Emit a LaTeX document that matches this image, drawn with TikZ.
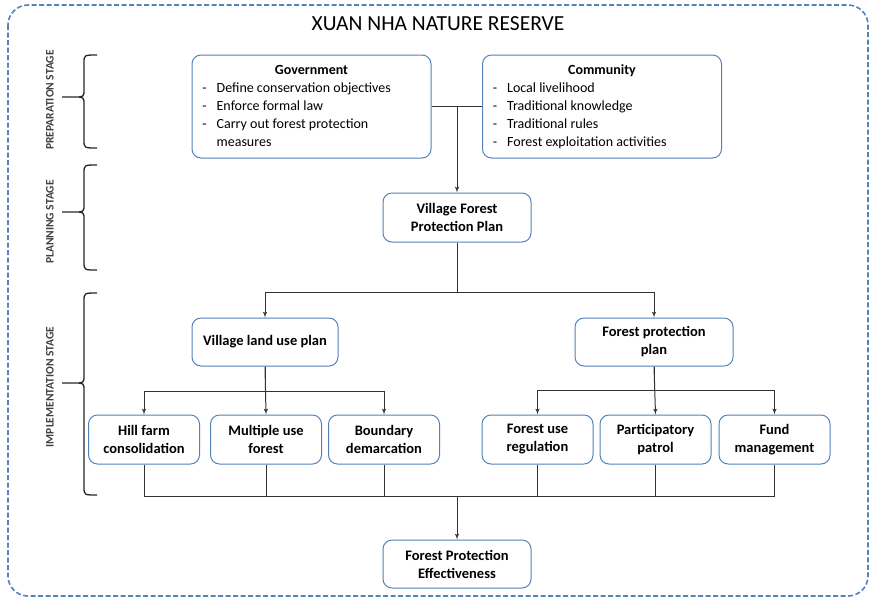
\documentclass[tikz,border=0pt]{standalone}
\usepackage{fontspec}
\setmainfont{Carlito}
\usetikzlibrary{arrows,positioning}
\definecolor{boxblue}{RGB}{84,130,186}
\definecolor{linegray}{RGB}{50,50,50}

\begin{document}
\begin{tikzpicture}[x=1pt,y=-1pt,>=latex',every node/.append style={align=center},
    box/.style={draw=boxblue, line width=1pt, rounded corners=9pt, fill=white, inner sep=2pt, font=\fontsize{14.5}{18}\selectfont\bfseries},
    list/.style={box, minimum width=239pt, minimum height=103pt, font=\fontsize{14}{18}\selectfont},
    sub/.style={box, minimum width=111pt, minimum height=49pt},
    link/.style={draw=linegray, line width=1pt},
    brace/.style={draw=black!85, line width=1.3pt},
    stage/.style={rotate=90, text=black!75, font=\fontsize{11.5}{13}\selectfont\bfseries}]
    \useasboundingbox (0,0) rectangle (874,598);
    \draw[boxblue, line width=1.6pt, dash pattern=on 5pt off 2.5pt, rounded corners=20pt] (8,5) rectangle (868,596);

    \node (title) at (438,24) {\fontsize{21.5}{24}\selectfont XUAN NHA NATURE RESERVE};

    \node [list] (gov) at (311.5,106.5) {\begin{tabular}{@{}l@{\hspace{10pt}}p{204pt}@{}}
        \multicolumn{2}{c}{\bfseries Government}\\
        - & Define conservation objectives\\
        - & Enforce formal law\\
        - & Carry out forest protection\\
          & measures
        \end{tabular}};
    \node [list] (comm) at (602,106.5) {\begin{tabular}{@{}l@{\hspace{10pt}}p{204pt}@{}}
        \multicolumn{2}{c}{\bfseries Community}\\
        - & Local livelihood\\
        - & Traditional knowledge\\
        - & Traditional rules\\
        - & Forest exploitation activities
        \end{tabular}};

    \node [box, minimum width=148pt, minimum height=49pt] (vfpp) at (457,217.5) {Village Forest\\Protection Plan};

    \node [box, minimum width=146pt, minimum height=48pt] (vlup) at (265,342) {Village land use plan};
    \node [box, minimum width=158pt, minimum height=48pt] (fpp) at (654,342) {Forest protection\\plan};

    \node [sub] (hill) at (144,439.5) {Hill farm\\consolidation};
    \node [sub, right=10pt of hill] (multi) {Multiple use\\forest};
    \node [sub, right=6pt of multi] (bound) {Boundary\\demarcation};

    \node [sub] (freg) at (537.5,439.5) {Forest use\\regulation};
    \node [sub, right=6pt of freg] (patrol) {Participatory\\patrol};
    \node [sub, right=7pt of patrol] (fund) {Fund\\management};

    \node [box, minimum width=148pt, minimum height=48pt] (fpe) at (457,564) {Forest Protection\\Effectiveness};

    % stages
    \draw[brace] (97,55) .. controls (84,55) .. (84,63) -- (84,89) .. controls (84,97) .. (74,97) -- (62,97)
                 (74,97) .. controls (84,97) .. (84,105) -- (84,140) .. controls (84,148) .. (97,148);
    \draw[brace] (97,165) .. controls (84,165) .. (84,173) -- (84,204) .. controls (84,212) .. (74,212) -- (62,212)
                 (74,212) .. controls (84,212) .. (84,220) -- (84,262) .. controls (84,270) .. (97,270);
    \draw[brace] (97,293) .. controls (84,293) .. (84,301) -- (84,375) .. controls (84,383) .. (74,383) -- (62,383)
                 (74,383) .. controls (84,383) .. (84,391) -- (84,487) .. controls (84,495) .. (97,495);
    \node [stage] (prep) at (50,100) {PREPARATION STAGE};
    \node [stage] (plan) at (50,222) {PLANNING STAGE};
    \node [stage] (impl) at (50,387) {IMPLEMENTATION STAGE};

    % connectors
    \draw[link] (gov.east) -- (comm.west);
    \draw[link,->] (gov.east -| vfpp.north) -- (vfpp.north);
    \draw[link,->] (vfpp.south) -- ++(0,50) -| (vlup.north);
    \draw[link,->] (vfpp.south) -- ++(0,50) -| (fpp.north);

    \draw[link,->] (vlup.south) -- ++(0,25) -| (hill.north);
    \draw[link,->] (vlup.south) -- (multi.north);
    \draw[link,->] (vlup.south) -- ++(0,25) -| (bound.north);
    \draw[link,->] (fpp.south) -- ++(0,24) -| (freg.north);
    \draw[link,->] (fpp.south) -- (patrol.north);
    \draw[link,->] (fpp.south) -- ++(0,24) -| (fund.north);

    \coordinate (merge) at (457,496);
    \draw[link] (hill.south) |- (merge) -| (fund.south);
    \draw[link] (multi.south) -- (multi.south |- merge);
    \draw[link] (bound.south) -- (bound.south |- merge);
    \draw[link] (freg.south) -- (freg.south |- merge);
    \draw[link] (patrol.south) -- (patrol.south |- merge);
    \draw[link,->] (merge) -- (fpe.north);
\end{tikzpicture}
\end{document}
